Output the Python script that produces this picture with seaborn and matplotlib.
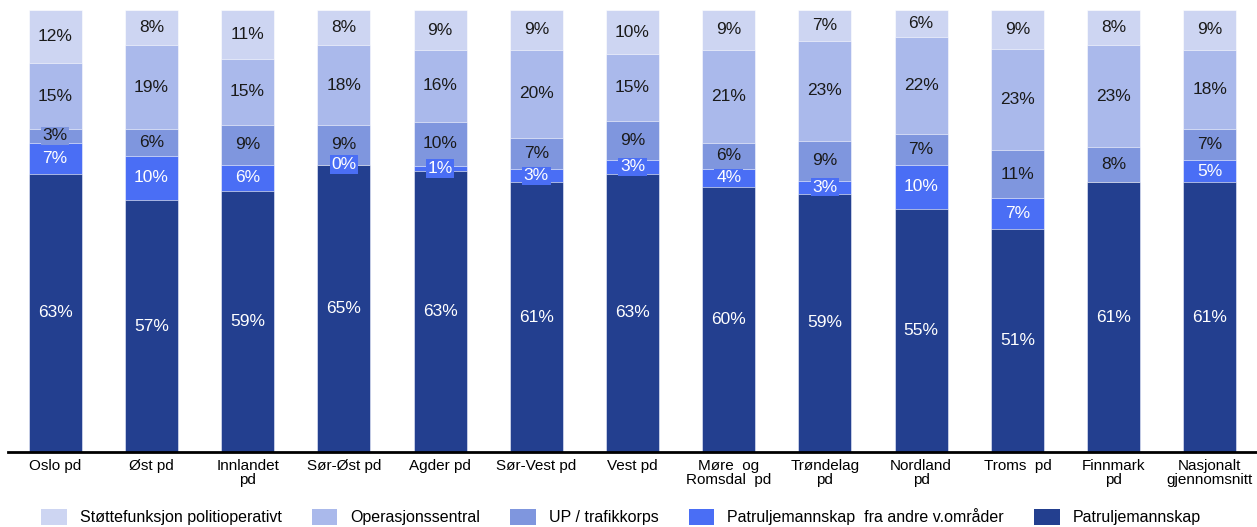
import numpy as np
import pandas as pd
import matplotlib
matplotlib.use('Agg')
import matplotlib.pyplot as plt
import seaborn as sns
from matplotlib.patches import Patch

# data (percent)
districts = ['Oslo pd', 'Øst pd', 'Innlandet\npd', 'Sør-Øst pd', 'Agder pd', 'Sør-Vest pd',
             'Vest pd', 'Møre  og\nRomsdal  pd', 'Trøndelag\npd', 'Nordland\npd',
             'Troms  pd', 'Finnmark\npd', 'Nasjonalt\ngjennomsnitt']
patrulje = [63, 57, 59, 65, 63, 61, 63, 60, 59, 55, 51, 61, 61]
patrulje_andre = [7, 10, 6, 0, 1, 3, 3, 4, 3, 10, 7, 0, 5]
up_trafikk = [3, 6, 9, 9, 10, 7, 9, 6, 9, 7, 11, 8, 7]
operasjon = [15, 19, 15, 18, 16, 20, 15, 21, 23, 22, 23, 23, 18]
stotte = [12, 8, 11, 8, 9, 9, 10, 9, 7, 6, 9, 8, 9]
# Finnmark has no label for the (empty) segment
show_andre = [True] * 11 + [False, True]

series = ['Patruljemannskap', 'Patruljemannskap  fra andre v.områder', 'UP / trafikkorps',
          'Operasjonssentral', 'Støttefunksjon politioperativt']
values = [patrulje, patrulje_andre, up_trafikk, operasjon, stotte]
colors = ['#233f8f', '#4a6ef5', '#7f96de', '#aab9eb', '#cdd5f2']
txt_colors = ['white', 'white', '#1a1a1a', '#1a1a1a', '#1a1a1a']

df = pd.DataFrame(dict(zip(series, values)), index=districts)
# rounded labels don't always add to 100, bars are drawn as shares of the total
share = df.div(df.sum(axis=1), axis=0) * 100
cum = share.cumsum(axis=1)

plt.rcParams['font.family'] = ['Liberation Sans', 'DejaVu Sans']
fig = plt.figure(figsize=(12.57, 5.27), dpi=100)
ax = fig.add_axes([8 / 1257, 75 / 527, 1 - 8 / 1257, 442 / 527])

# draw cumulative totals, tallest first, so the stacks build up
for i in range(len(series) - 1, -1, -1):
    d = pd.DataFrame({'district': districts, 'val': cum.iloc[:, i].values})
    sns.barplot(data=d, x='district', y='val', color=colors[i], width=0.55,
                edgecolor='white', linewidth=0.4, saturation=1, ax=ax)

for j, name in enumerate(districts):
    bottom = 0
    for i, s in enumerate(series):
        v = df.iloc[j, i]
        h = share.iloc[j, i]
        if i == 1 and not show_andre[j]:
            bottom += h
            continue
        y = bottom + h / 2
        box = None
        if v <= 4:
            box = dict(boxstyle='square,pad=0.1', fc=colors[i], ec='none')
        ax.text(j, y, f'{v}%', ha='center', va='center', fontsize=12.5,
                color=txt_colors[i], bbox=box)
        bottom += h

ax.set_xlim(-0.49, 12.49)
ax.set_ylim(0, 100)
ax.set_xlabel('')
ax.set_ylabel('')
ax.set_yticks([])
for sp in ['top', 'right', 'left']:
    ax.spines[sp].set_visible(False)
ax.spines['bottom'].set_linewidth(2)
ax.spines['bottom'].set_color('black')
ax.tick_params(axis='x', length=0, labelsize=11, pad=5)
plt.setp(ax.get_xticklabels(), linespacing=1.0)

leg_order = [4, 3, 2, 1, 0]
handles = [Patch(facecolor=colors[i], edgecolor='none') for i in leg_order]
labels = [series[i] for i in leg_order]
fig.legend(handles, labels, loc='center', bbox_to_anchor=(0.494, 10 / 527), ncol=5,
           frameon=False, fontsize=11.5, handlelength=1.6, handleheight=1.2,
           columnspacing=1.9, handletextpad=0.8)

fig.savefig('out.png', dpi=100)
